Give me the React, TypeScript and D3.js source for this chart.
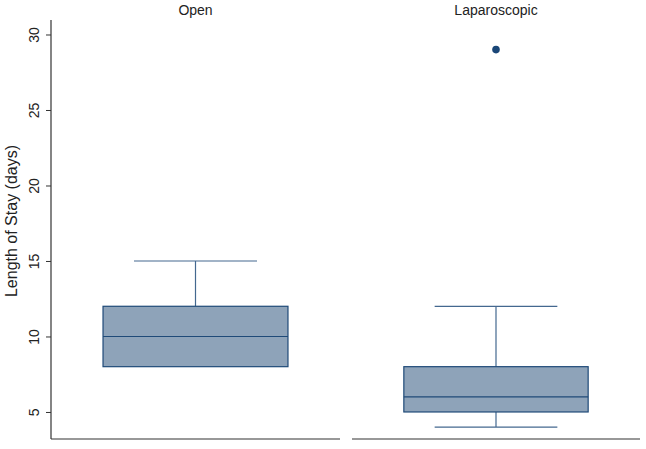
import React, { useEffect, useRef } from "react";
import * as d3 from "d3";

// box plot summaries
const groups = ["Open", "Laparoscopic"];
const lowerWhisker = [8, 4];
const q1 = [8, 5];
const median = [10, 6];
const q3 = [12, 8];
const upperWhisker = [15, 12];
const outliers = [[], [29]];
const yTicks = [5, 10, 15, 20, 25, 30];

const App = () => {
  const svgRef = useRef<SVGSVGElement>(null);

  useEffect(() => {
    const width = 646;
    const height = 449;
    const top = 20;
    const bottom = 439;
    const axisX = 51;
    const panels = [
      [51, 340],
      [352, 640],
    ];

    const svg = d3.select(svgRef.current);
    svg.selectAll("*").remove();
    svg.attr("width", width).attr("height", height);

    const y = d3.scaleLinear().domain([3.21, 30.96]).range([bottom, top]);

    const fill = "#8ea3b9";
    const stroke = "#1f4a78";
    const whiskerColor = "#44688f";
    const font = "'Liberation Sans', Arial, sans-serif";

    // y axis
    const axis = svg
      .append("g")
      .attr("transform", `translate(${axisX},0)`)
      .call(d3.axisLeft(y).tickValues(yTicks).tickSize(5).tickPadding(6));
    axis.select(".domain").attr("stroke", "#333").attr("stroke-width", 1.2).attr("d", `M0,${top}V${bottom}`);
    axis.selectAll(".tick line").attr("stroke", "#333");
    axis
      .selectAll(".tick text")
      .attr("font-family", font)
      .attr("font-size", 14)
      .attr("fill", "#222")
      .attr("transform", "rotate(-90)")
      .attr("x", 0)
      .attr("y", -12)
      .attr("dy", 0)
      .attr("text-anchor", "middle");

    svg
      .append("text")
      .attr("transform", `translate(11,${221}) rotate(-90)`)
      .attr("text-anchor", "middle")
      .attr("dy", "0.35em")
      .attr("font-family", font)
      .attr("font-size", 16)
      .attr("fill", "#222")
      .text("Length of Stay (days)");

    groups.forEach((name, i) => {
      const [x0, x1] = panels[i];
      const x = d3.scaleLinear().domain([0, 1]).range([x0, x1]);
      const cx = x(0.5);
      const g = svg.append("g");

      // panel title
      g.append("text")
        .attr("x", cx)
        .attr("y", 15)
        .attr("text-anchor", "middle")
        .attr("font-family", font)
        .attr("font-size", 14)
        .attr("fill", "#222")
        .text(name);

      // bottom axis line
      g.append("line")
        .attr("x1", x0)
        .attr("x2", x1)
        .attr("y1", bottom)
        .attr("y2", bottom)
        .attr("stroke", "#333")
        .attr("stroke-width", 1.2);

      // whiskers
      [
        [upperWhisker[i], q3[i]],
        [lowerWhisker[i], q1[i]],
      ].forEach(([w, q]) => {
        if (w === q) return;
        g.append("line")
          .attr("x1", cx)
          .attr("x2", cx)
          .attr("y1", y(w))
          .attr("y2", y(q))
          .attr("stroke", whiskerColor)
          .attr("stroke-width", 1.2);
        g.append("line")
          .attr("x1", x(0.287))
          .attr("x2", x(0.713))
          .attr("y1", y(w))
          .attr("y2", y(w))
          .attr("stroke", whiskerColor)
          .attr("stroke-width", 1.2);
      });

      // box
      g.append("rect")
        .attr("x", x(0.18))
        .attr("width", x(0.82) - x(0.18))
        .attr("y", y(q3[i]))
        .attr("height", y(q1[i]) - y(q3[i]))
        .attr("fill", fill)
        .attr("stroke", stroke)
        .attr("stroke-width", 1.2);

      g.append("line")
        .attr("x1", x(0.18))
        .attr("x2", x(0.82))
        .attr("y1", y(median[i]))
        .attr("y2", y(median[i]))
        .attr("stroke", stroke)
        .attr("stroke-width", 1.2);

      g.selectAll("circle")
        .data(outliers[i])
        .enter()
        .append("circle")
        .attr("cx", cx)
        .attr("cy", (d) => y(d))
        .attr("r", 3.8)
        .attr("fill", "#1a4677");
    });
  }, []);

  return (
    <div style={{ position: "absolute", left: 0, top: 0, background: "#fff" }}>
      <svg ref={svgRef}></svg>
    </div>
  );
};

export default App;
